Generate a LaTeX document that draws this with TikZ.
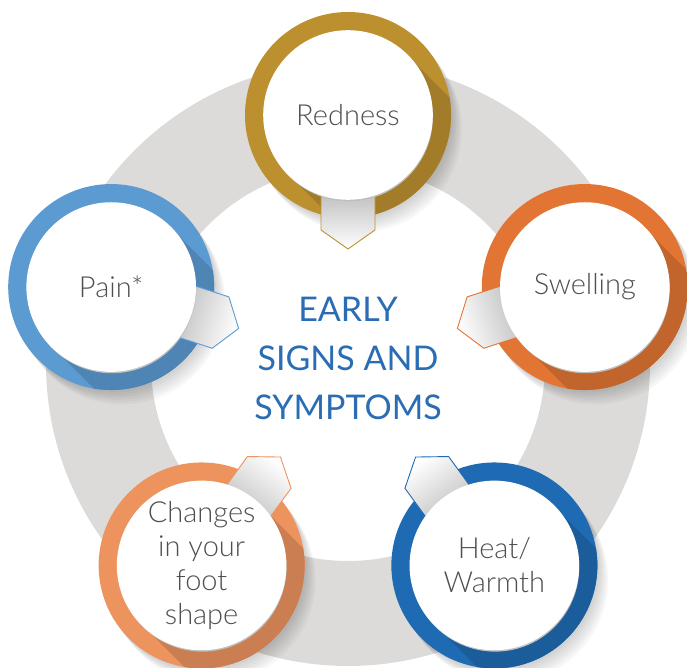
\documentclass[tikz,border=0pt]{standalone}
\usepackage{fontspec}
\setmainfont{Lato}
\newfontfamily\thinfont{Lato Light}
\usetikzlibrary{calc}
\definecolor{ringGray}{HTML}{DCDBDA}
\definecolor{goldTone}{HTML}{BD902F}
\definecolor{orangeTone}{HTML}{E27533}
\definecolor{skyTone}{HTML}{5B9BD1}
\definecolor{peachTone}{HTML}{EC935E}
\definecolor{navyTone}{HTML}{1F6BB3}
\definecolor{labelGray}{HTML}{4F4F4F}
\definecolor{titleBlue}{HTML}{2A6DB4}
\definecolor{discEdge}{HTML}{E2E2E8}
\pgfdeclareradialshading{discface}{\pgfpoint{0bp}{0bp}}{color(0bp)=(white);color(27bp)=(white);color(44bp)=(discEdge!70!white);color(50bp)=(discEdge)}

\begin{document}
\begin{tikzpicture}[x=1pt,y=1pt,
    disc/.style={circle,minimum size=168pt,inner sep=0pt,shade,shading=discface,
      draw=white,line width=1.6pt,text=labelGray,align=center,
      font=\thinfont\fontsize{29}{34}\selectfont},
    tab/.style={line width=0.9pt,top color=white,middle color=white,bottom color=black!24},
    title/.style={align=center,text=titleBlue,font=\fontsize{34}{49}\selectfont}]
  \useasboundingbox (0,0) rectangle (687,668);
  \coordinate (hub) at (348,304);
  \fill[ringGray,even odd rule] (hub) circle (302) (hub) circle (197);
  \foreach \ang in {90,18,-54,234,162}{
    \foreach \k in {3,6,...,18}
      \fill[black,opacity=0.03] ($(hub)+(\ang:249)+(\k*0.6,-\k*0.8)$) circle (103);
  }
  \foreach \ang/\tone/\nm/\txt in {90/goldTone/redness/Redness,
      18/orangeTone/swelling/Swelling,
      -54/navyTone/heat/{Heat/\\Warmth},
      234/peachTone/changes/{Changes\\in your\\foot\\shape},
      162/skyTone/pain/Pain*}{
    \pgfmathsetmacro\dir{\ang+180}
    \pgfmathsetmacro\tilt{\ang+90}
    \coordinate (p) at ($(hub)+(\ang:249)$);
    \fill[\tone] (p) circle (103);
    \begin{scope}
      \clip (p) circle (103);
      \fill[\tone!86!black,shift={(p)},rotate=-45] (0,-84) rectangle (240,84);
    \end{scope}
    \draw[tab,shading angle=\tilt,draw=\tone,shift={(p)},rotate=\dir]
      (80,-27) -- (115,-27) -- (134,0) -- (115,27) -- (80,27) -- cycle;
    \fill[black!25] ($(p)+(0.8,-2.2)$) circle (84);
    \node[disc] (\nm) at (p) {\txt};
  }
  \node[title] (heading) at (348,310) {EARLY\\SIGNS AND\\SYMPTOMS};
\end{tikzpicture}
\end{document}
